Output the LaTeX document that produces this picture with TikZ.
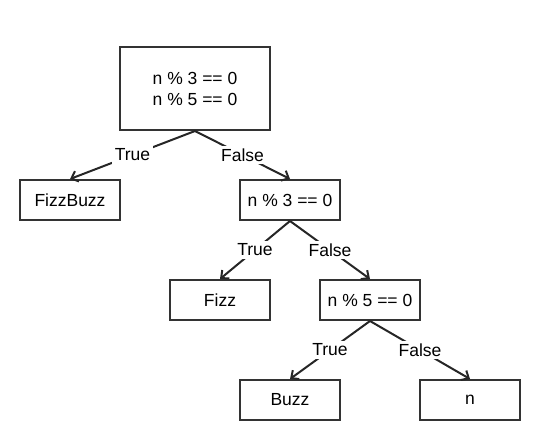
\documentclass[tikz,border=0pt]{standalone}
\usepackage{fontspec}
\setmainfont{Liberation Sans}
\usetikzlibrary{arrows.meta}

\begin{document}
\begin{tikzpicture}[
            x=1pt, y=-1pt,
            test/.style={rectangle, draw=black!80, line width=2pt, minimum width=100pt, minimum height=40pt, align=center, font=\fontsize{17.5}{21}\selectfont},
            branch/.style={draw=black!85, line width=2pt, -{Straight Barb[length=6pt,width=11pt,line width=2pt]}},
            answer/.style={fill=white, inner sep=2.5pt, font=\fontsize{17.5}{21}\selectfont}
        ]
        \useasboundingbox (0,0) rectangle (540,440);
        
        % Decision boxes
        \node[test, minimum width=150pt, minimum height=83pt] (both) at (195,88.5) {n \% 3 == 0\\n \% 5 == 0};
        \node[test] (fizzbuzz) at (70,200) {FizzBuzz};
        \node[test] (three) at (290,200) {n \% 3 == 0};
        \node[test] (fizz) at (220,300) {Fizz};
        \node[test] (five) at (370,300) {n \% 5 == 0};
        \node[test] (buzz) at (290,400) {Buzz};
        \node[test] (plain) at (470,400) {n};
        
        % Branches
        \draw[branch] (both.south) -- node[answer] {True} (fizzbuzz.north);
        \draw[branch] (both.south) -- node[answer] {False} (three.north);
        \draw[branch] (three.south) -- node[answer] {True} (fizz.north);
        \draw[branch] (three.south) -- node[answer] {False} (five.north);
        \draw[branch] (five.south) -- node[answer] {True} (buzz.north);
        \draw[branch] (five.south) -- node[answer] {False} (plain.north);
        
        \end{tikzpicture}
\end{document}
